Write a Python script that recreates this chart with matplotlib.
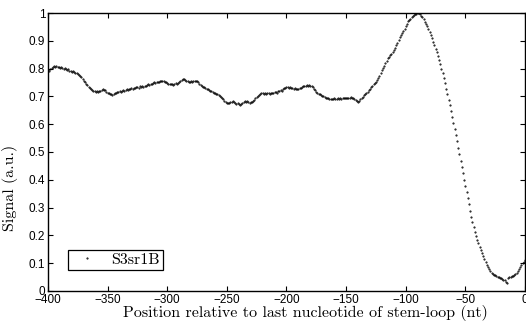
import numpy as np
import matplotlib
matplotlib.use("Agg")
import matplotlib.pyplot as plt

# positions in nt, -400 ... 0
positions = np.arange(-400, 1)

# signal, one value per nt
plateau = [
    0.795, 0.790, 0.797, 0.802, 0.806, 0.809, 0.806, 0.810, 0.807, 0.805,  # -400
    0.803, 0.806, 0.801, 0.799, 0.802, 0.798, 0.795, 0.797, 0.792, 0.790,  # -390
    0.789, 0.791, 0.786, 0.784, 0.785, 0.779, 0.777, 0.774, 0.770, 0.764,  # -380
    0.755, 0.750, 0.745, 0.741, 0.735, 0.731, 0.726, 0.723, 0.720, 0.718,  # -370
    0.716, 0.719, 0.715, 0.718, 0.721, 0.723, 0.726, 0.724, 0.722, 0.717,  # -360
    0.714, 0.712, 0.709, 0.708, 0.706, 0.710, 0.713, 0.711, 0.715, 0.717,  # -350
    0.719, 0.716, 0.720, 0.722, 0.719, 0.723, 0.725, 0.722, 0.726, 0.728,  # -340
    0.729, 0.727, 0.731, 0.729, 0.733, 0.735, 0.732, 0.736, 0.734, 0.737,  # -330
    0.735, 0.738, 0.736, 0.740, 0.743, 0.741, 0.745, 0.744, 0.748, 0.750,  # -320
    0.749, 0.752, 0.753, 0.751, 0.755, 0.757, 0.754, 0.756, 0.753, 0.750,  # -310
    0.748, 0.745, 0.743, 0.746, 0.744, 0.742, 0.745, 0.748, 0.746, 0.749,  # -300
    0.752, 0.755, 0.758, 0.761, 0.763, 0.760, 0.757, 0.755, 0.753, 0.751,  # -290
    0.754, 0.752, 0.756, 0.755, 0.757, 0.754, 0.750, 0.746, 0.742, 0.738,  # -280
    0.735, 0.733, 0.730, 0.728, 0.726, 0.723, 0.721, 0.719, 0.716, 0.714,  # -270
    0.713, 0.710, 0.708, 0.704, 0.700, 0.697, 0.693, 0.689, 0.684, 0.680,  # -260
    0.677, 0.675, 0.678, 0.681, 0.679, 0.682, 0.680, 0.677, 0.674, 0.676,  # -250
    0.672, 0.670, 0.674, 0.678, 0.681, 0.683, 0.680, 0.682, 0.679, 0.677,  # -240
    0.679, 0.681, 0.684, 0.688, 0.693, 0.697, 0.701, 0.706, 0.709, 0.711,  # -230
    0.713, 0.710, 0.712, 0.709, 0.711, 0.713, 0.710, 0.712, 0.714, 0.713,  # -220
    0.715, 0.716, 0.714, 0.718, 0.720, 0.723, 0.721, 0.726, 0.729, 0.732,  # -210
    0.735, 0.733, 0.731, 0.733, 0.730, 0.729, 0.727, 0.729, 0.726, 0.728,  # -200
    0.726, 0.729, 0.731, 0.734, 0.737, 0.739, 0.738, 0.740, 0.739, 0.741,  # -190
    0.739, 0.737, 0.733, 0.728, 0.722, 0.717, 0.713, 0.710, 0.707, 0.705,  # -180
    0.702, 0.700, 0.697, 0.696, 0.694, 0.693, 0.691, 0.692, 0.690, 0.691,  # -170
    0.693, 0.690, 0.692, 0.694, 0.691, 0.693, 0.692, 0.695, 0.693, 0.696,  # -160
    0.695, 0.693, 0.696, 0.694, 0.697, 0.695, 0.693, 0.690, 0.686, 0.683,  # -150
]
rise = [
    0.681, 0.685, 0.689, 0.693, 0.699, 0.704, 0.708, 0.712, 0.717, 0.723,  # -140
    0.728, 0.733, 0.739, 0.744, 0.749, 0.753, 0.760, 0.767, 0.775, 0.785,  # -130
    0.794, 0.802, 0.811, 0.820, 0.829, 0.837, 0.843, 0.849, 0.854, 0.860,  # -120
    0.867, 0.875, 0.884, 0.893, 0.902, 0.912, 0.921, 0.927, 0.935, 0.944,  # -110
    0.953, 0.962, 0.970, 0.975, 0.980, 0.985, 0.990, 0.992, 0.996, 0.998,  # -100
    1.000, 0.999, 0.996, 0.991, 0.985, 0.977, 0.969, 0.961, 0.952, 0.942,  # -90
]
drop = [
    0.930, 0.920, 0.909, 0.897, 0.884, 0.871, 0.858, 0.844, 0.830, 0.816,  # -80
    0.800, 0.783, 0.765, 0.747, 0.728, 0.708, 0.688, 0.668, 0.647, 0.626,  # -70
    0.605, 0.583, 0.561, 0.538, 0.515, 0.492, 0.469, 0.446, 0.423, 0.401,  # -60
    0.379, 0.357, 0.335, 0.312, 0.289, 0.267, 0.247, 0.229, 0.213, 0.198,  # -50
    0.184, 0.172, 0.160, 0.149, 0.138, 0.127, 0.116, 0.105, 0.095, 0.086,  # -40
    0.078, 0.071, 0.066, 0.062, 0.059, 0.057, 0.055, 0.052, 0.050, 0.048,  # -30
    0.046, 0.044, 0.041, 0.038, 0.034, 0.030, 0.047, 0.050, 0.051, 0.054,  # -20
]
tail = [0.055, 0.057, 0.061, 0.066, 0.071, 0.078, 0.086, 0.094, 0.100, 0.105, 0.110]  # -10..0

signal = np.array(plateau + rise + drop + tail)

xticks = [-400, -350, -300, -250, -200, -150, -100, -50, 0]
yticks = [0, 0.1, 0.2, 0.3, 0.4, 0.5, 0.6, 0.7, 0.8, 0.9, 1]
yticklabels = ["0", "0.1", "0.2", "0.3", "0.4", "0.5", "0.6", "0.7", "0.8", "0.9", "1"]

fig = plt.figure(figsize=(5.26, 3.21), dpi=100)
ax = fig.add_axes([0.0913, 0.0935, 0.9067, 0.866])

ax.plot(positions, signal, linestyle="none", marker=".", markersize=1.0,
        color="black", label="S3sr1B")

ax.set_xlim(-400, 0)
ax.set_ylim(0, 1)
ax.set_xticks(xticks)
ax.set_yticks(yticks)
ax.set_yticklabels(yticklabels)
ax.tick_params(direction="in", top=True, right=True, length=3.5, width=0.8,
               labelsize=8.5, pad=2)
for lab in ax.get_xticklabels() + ax.get_yticklabels():
    lab.set_family("Liberation Sans")
for sp in ax.spines.values():
    sp.set_linewidth(1.0)

# labels sit a bit off-centre in the reference
ax.set_xlabel("Position relative to last nucleotide of stem-loop (nt)",
              family="cmr10", fontsize=11.5)
ax.xaxis.set_label_coords(0.539, -0.052)
ax.set_ylabel("Signal (a.u.)", family="cmr10", fontsize=11.5)
ax.yaxis.set_label_coords(-0.064, 0.37)

leg = ax.legend(loc="lower left", bbox_to_anchor=(0.042, 0.075), prop={"family": "cmr10", "size": 11.5},
                fancybox=False, framealpha=1, edgecolor="black", borderpad=0.2,
                handlelength=2.0, handletextpad=0.5, markerscale=1, borderaxespad=0)
leg.get_frame().set_linewidth(0.9)

fig.savefig("out.png", dpi=100)
